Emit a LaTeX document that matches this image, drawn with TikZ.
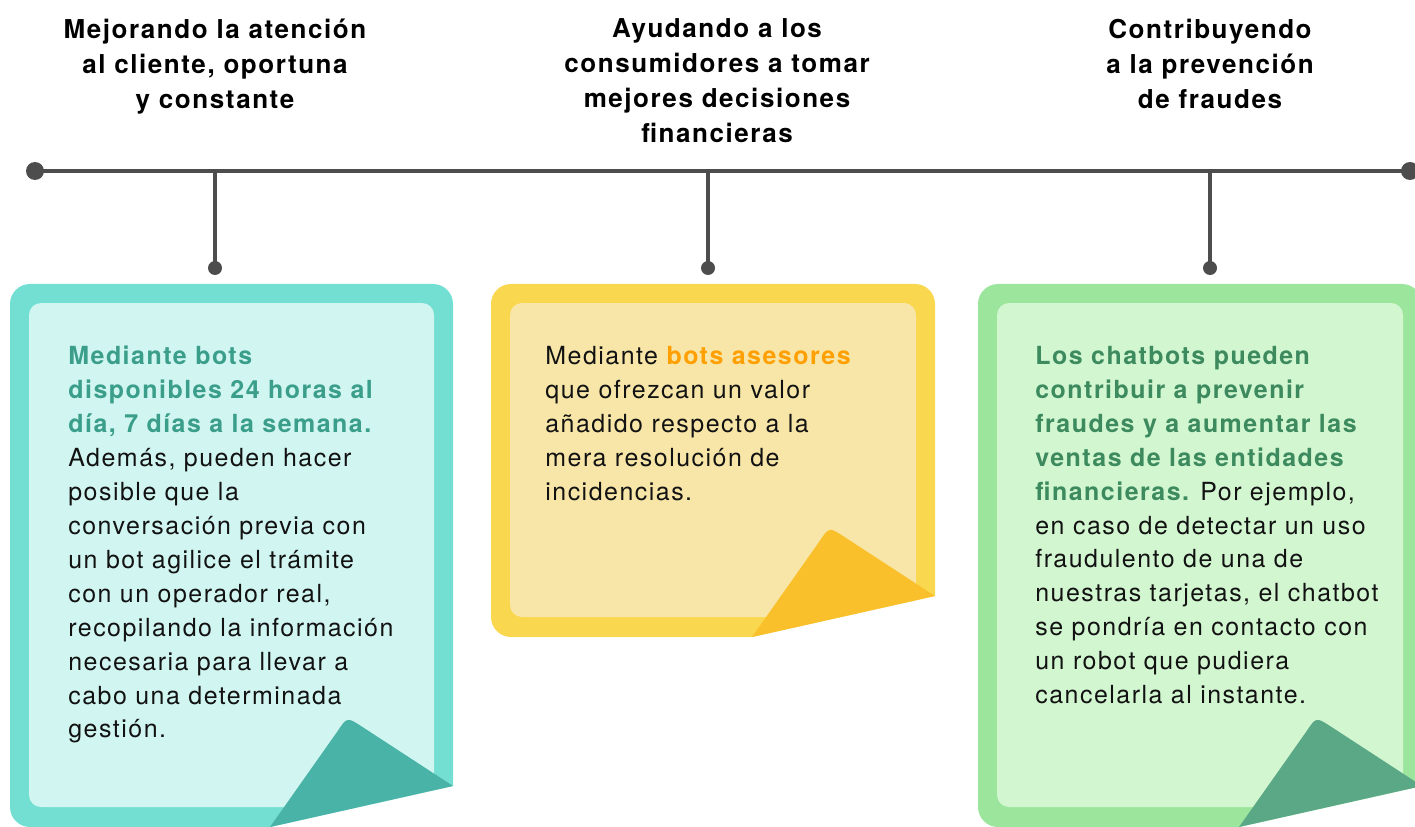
\documentclass[tikz,border=0pt]{standalone}
\usepackage{fontspec}
\setmainfont[LetterSpace=6]{TeX Gyre Heros}
\definecolor{linegray}{HTML}{4D4D4D}
\definecolor{tealOut}{HTML}{72DFD2}
\definecolor{tealIn}{HTML}{D1F6F1}
\definecolor{tealFold}{HTML}{4AB3A7}
\definecolor{tealTxt}{HTML}{3A9E8A}
\definecolor{yelOut}{HTML}{F9D74E}
\definecolor{yelIn}{HTML}{F7E6A8}
\definecolor{yelFold}{HTML}{FAC02C}
\definecolor{yelTxt}{HTML}{FF9F00}
\definecolor{grnOut}{HTML}{9CE59C}
\definecolor{grnIn}{HTML}{D2F6D0}
\definecolor{grnFold}{HTML}{5BA887}
\definecolor{grnTxt}{HTML}{3C8A5E}
\newcommand{\hlb}[2]{\textcolor{#1}{\bfseries #2}}
\begin{document}
\begin{tikzpicture}[x=0.02cm,y=-0.02cm,
  stem/.style={line width=0.08cm,draw=linegray},
  head/.style={align=center,inner sep=0,font=\fontsize{14.8}{19.9}\selectfont\bfseries},
  body/.style={align=left,anchor=north west,inner sep=0,text=black!93,font=\fontsize{14.2}{19.3}\selectfont}]
\useasboundingbox (0,0) rectangle (1415,827);
\foreach \L/\R/\B/\col in {10/453/827/teal,491/935/637/yel,978/1422/827/grn}{
\begin{scope}
\clip (\L,284) -- (\R,284) -- (\R,\B-41) -- (\R-183,\B) -- (\L,\B) -- cycle;
\fill[\col Out,rounded corners=0.4cm] (\L,284) rectangle (\R,\B);
\fill[\col In,rounded corners=0.24cm] (\L+19,303) rectangle (\R-19,\B-20);
\end{scope}
\fill[\col Fold] (\R-183,\B) -- (\R-116,\B-95) .. controls (\R-106,\B-110) .. (\R-92,\B-101) -- (\R,\B-41) -- cycle;
}
\coordinate (tl) at (35,171);
\coordinate (tr) at (1410,171);
\coordinate (s1) at (215,171);
\coordinate (e1) at (215,268);
\coordinate (s2) at (708,171);
\coordinate (e2) at (708,268);
\coordinate (s3) at (1210,171);
\coordinate (e3) at (1210,268);
\draw[stem](tl)--(tr);
\draw[stem](s1)--(e1);
\draw[stem](s2)--(e2);
\draw[stem](s3)--(e3);
\fill[linegray](tl)circle(0.18cm);
\fill[linegray](tr)circle(0.18cm);
\fill[linegray](e1)circle(0.14cm);
\fill[linegray](e2)circle(0.14cm);
\fill[linegray](e3)circle(0.14cm);
\node[head](h1)at(215,67){Mejorando la atención\\al cliente, oportuna\\y constante};
\node[head](h2)at(717,81){Ayudando a los\\consumidores a tomar\\mejores decisiones\\financieras};
\node[head](h3)at(1210,64){Contribuyendo\\a la prevención\\de fraudes};
\node[body](b1)at(68,346){\hlb{tealTxt}{Mediante bots}\\\hlb{tealTxt}{disponibles 24 horas al}\\\hlb{tealTxt}{día, 7 días a la semana.}\\Además, pueden hacer\\posible que la\\conversación previa con\\un bot agilice el trámite\\con un operador real,\\recopilando la información\\necesaria para llevar a\\cabo una determinada\\gestión.};
\node[body](b2)at(545,346){Mediante \hlb{yelTxt}{bots asesores}\\que ofrezcan un valor\\añadido respecto a la\\mera resolución de\\incidencias.};
\node[body](b3)at(1035,346){\hlb{grnTxt}{Los chatbots pueden}\\\hlb{grnTxt}{contribuir a prevenir}\\\hlb{grnTxt}{fraudes y a aumentar las}\\\hlb{grnTxt}{ventas de las entidades}\\\hlb{grnTxt}{financieras.} Por ejemplo,\\en caso de detectar un uso\\fraudulento de una de\\nuestras tarjetas, el chatbot\\se pondría en contacto con\\un robot que pudiera\\cancelarla al instante.};
\end{tikzpicture}
\end{document}
